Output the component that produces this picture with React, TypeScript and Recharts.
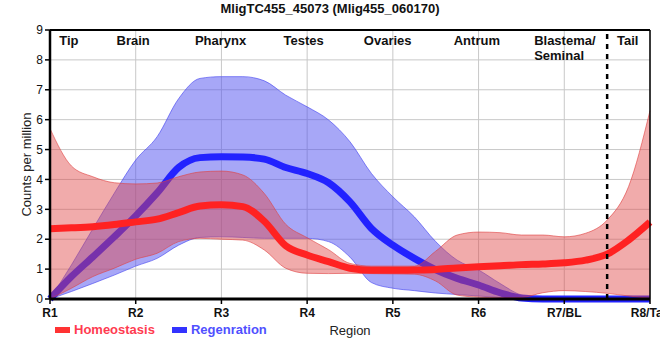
import { Area, CartesianGrid, ComposedChart, Label, ReferenceLine, XAxis, YAxis } from "recharts"

const POSITIONS = [
  1, 1.25, 1.5, 1.75, 2, 2.25, 2.5, 2.75, 3, 3.25, 3.5, 3.75, 4, 4.25, 4.5,
  4.75, 5, 5.25, 5.5, 5.75, 6, 6.25, 6.5, 6.75, 7, 7.25, 7.5, 7.75, 8,
]
const TICK_LABELS = ["R1", "R2", "R3", "R4", "R5", "R6", "R7/BL", "R8/Tail"]
const REGIONS = ["Tip", "Brain", "Pharynx", "Testes", "Ovaries", "Antrum", "Blastema/\nSeminal", "Tail"]
const REGION_POS = [1.22, 1.97, 2.99, 3.96, 4.94, 5.98, 7.01, 7.74]

const HOMEO_MEAN = [
  2.35, 2.38, 2.42, 2.49, 2.58, 2.67, 2.89, 3.11, 3.15, 3.09, 2.6, 1.78, 1.47, 1.25, 1.03,
  0.96, 0.96, 0.97, 0.99, 1.04, 1.08, 1.11, 1.15, 1.17, 1.21, 1.3, 1.5, 1.97, 2.57,
]
const HOMEO_HI = [
  5.7, 4.45, 4.09, 3.89, 3.85, 3.88, 4.09, 4.25, 4.28, 4.15, 3.53, 2.5, 2.05, 1.65, 1.19,
  1.1, 1.1, 1.1, 1.6, 2.14, 2.24, 2.22, 2.14, 2.14, 2.08, 2.2, 2.64, 3.76, 6.3,
]
const HOMEO_LO = [
  0, 0.36, 0.75, 1.03, 1.33, 1.53, 1.92, 2.03, 2.0, 1.97, 1.64, 1.03, 0.86, 0.85, 0.86,
  0.85, 0.84, 0.83, 0.6, 0.13, 0.06, 0.04, 0.05, 0.21, 0.28, 0.25, 0.19, 0.1, 0.02,
]
const REGEN_MEAN = [
  0, 0.75, 1.41, 2.08, 2.78, 3.55, 4.4, 4.73, 4.76, 4.75, 4.68, 4.4, 4.2, 3.89, 3.25,
  2.36, 1.8, 1.36, 0.98, 0.69, 0.47, 0.21, 0.03, 0, 0, 0, 0, 0, 0,
]
const REGEN_HI = [
  0, 1.14, 2.35, 3.54, 4.65, 5.43, 6.7, 7.38, 7.44, 7.44, 7.3, 6.82, 6.43, 5.99, 5.26,
  4.2, 3.42, 2.75, 1.92, 1.3, 0.97, 0.52, 0.13, 0.02, 0, 0, 0, 0, 0,
]
const REGEN_LO = [
  0, 0.25, 0.52, 0.8, 1.1, 1.36, 1.8, 2.06, 2.08, 2.06, 2.03, 2.03, 2.03, 1.92, 1.4,
  0.55, 0.36, 0.28, 0.2, 0.15, 0.1, 0.05, 0.01, 0, 0, 0, 0, 0, 0,
]

const data = POSITIONS.map((pos, i) => ({
  pos,
  homeo: HOMEO_MEAN[i],
  homeoBand: [HOMEO_LO[i], HOMEO_HI[i]],
  regen: REGEN_MEAN[i],
  regenBand: [REGEN_LO[i], REGEN_HI[i]],
}))

const FONT = "Arial, 'Liberation Sans', sans-serif"

function RegionTick({ x, payload }: any) {
  const idx = REGION_POS.indexOf(payload.value)
  const lines = REGIONS[idx].split("\n")
  const multi = lines.length > 1
  const tx = multi ? x - 31 : x
  return (
    <text
      x={tx}
      y={45}
      textAnchor={multi ? "start" : "middle"}
      fontFamily={FONT}
      fontSize={13}
      fontWeight="bold"
      fill="#111"
    >
      {lines.map((l, i) => (
        <tspan key={l} x={tx} dy={i === 0 ? 0 : 15}>
          {l}
        </tspan>
      ))}
    </text>
  )
}

export default function App() {
  return (
    <div style={{ position: "absolute", left: 0, top: 0, width: 660, height: 360, fontFamily: FONT }}>
      <div
        style={{
          position: "absolute",
          left: 0,
          top: 1,
          width: 660,
          textAlign: "center",
          fontSize: 13,
          fontWeight: "bold",
          lineHeight: "16px",
          color: "#111",
        }}
      >
        MligTC455_45073 (Mlig455_060170)
      </div>
      <ComposedChart width={660} height={360} data={data} margin={{ top: 30, right: 10, bottom: 16, left: 0 }}>
        <CartesianGrid stroke="#c8c8c8" strokeWidth={1} />
        <XAxis
          dataKey="pos"
          type="number"
          domain={[1, 8]}
          ticks={[1, 2, 3, 4, 5, 6, 7, 8]}
          interval={0}
          tickFormatter={(v: number) => TICK_LABELS[v - 1]}
          height={45}
          axisLine={{ stroke: "#000", strokeWidth: 3 }}
          tickLine={{ stroke: "#000", strokeWidth: 1.5 }}
          tickSize={5}
          tickMargin={4}
          tick={{ fontSize: 12, fontWeight: "bold", fill: "#111", fontFamily: FONT }}
        >
          <Label value="Region" position="center" dy={9} style={{ fontSize: 13, fill: "#222", fontFamily: FONT }} />
        </XAxis>
        <XAxis
          xAxisId="top"
          dataKey="pos"
          orientation="top"
          type="number"
          domain={[1, 8]}
          allowDataOverflow
          ticks={REGION_POS}
          interval={0}
          axisLine={false}
          tickLine={false}
          height={1}
          mirror
          tick={<RegionTick />}
        />
        <YAxis
          type="number"
          domain={[0, 9]}
          ticks={[0, 1, 2, 3, 4, 5, 6, 7, 8, 9]}
          interval={0}
          width={50}
          axisLine={{ stroke: "#000", strokeWidth: 2.5 }}
          tickLine={{ stroke: "#000", strokeWidth: 1.5 }}
          tickSize={5}
          tickMargin={2}
          tick={{ fontSize: 12, fill: "#111", fontFamily: FONT }}
        >
          <Label
            value="Counts per million"
            angle={-90}
            position="center"
            dx={1}
            style={{ fontSize: 13, fill: "#222", fontFamily: FONT, textAnchor: "middle" }}
          />
        </YAxis>
        <Area
          type="monotone"
          dataKey="regenBand"
          fill="#5050f0"
          fillOpacity={0.5}
          stroke="#4040f0"
          strokeOpacity={0.6}
          strokeWidth={1}
          isAnimationActive={false}
        />
        <Area
          type="monotone"
          dataKey="regen"
          fill="none"
          stroke="#2222ff"
          strokeWidth={7}
          dot={false}
          activeDot={false}
          isAnimationActive={false}
        />
        <Area
          type="monotone"
          dataKey="homeoBand"
          fill="#e04545"
          fillOpacity={0.45}
          stroke="#e04040"
          strokeOpacity={0.6}
          strokeWidth={1}
          isAnimationActive={false}
        />
        <Area
          type="monotone"
          dataKey="homeo"
          fill="none"
          stroke="#ff2222"
          strokeWidth={7}
          dot={false}
          activeDot={false}
          isAnimationActive={false}
        />
        <ReferenceLine y={9} stroke="#000" strokeWidth={2} />
        <ReferenceLine x={8} stroke="#000" strokeWidth={1.5} />
        <ReferenceLine x={7.5} stroke="#000" strokeWidth={2.5} strokeDasharray="5 5" />
      </ComposedChart>
      <div
        style={{
          position: "absolute",
          left: 55,
          top: 322,
          display: "flex",
          alignItems: "center",
          fontSize: 13,
          fontWeight: "bold",
          lineHeight: "16px",
        }}
      >
        <span style={{ display: "inline-block", width: 15, height: 6, background: "#ff3333", marginRight: 4 }} />
        <span style={{ color: "#ff3b50", marginRight: 17 }}>Homeostasis</span>
        <span style={{ display: "inline-block", width: 15, height: 6, background: "#3333ff", marginRight: 4 }} />
        <span style={{ color: "#5050ff" }}>Regenration</span>
      </div>
    </div>
  )
}
